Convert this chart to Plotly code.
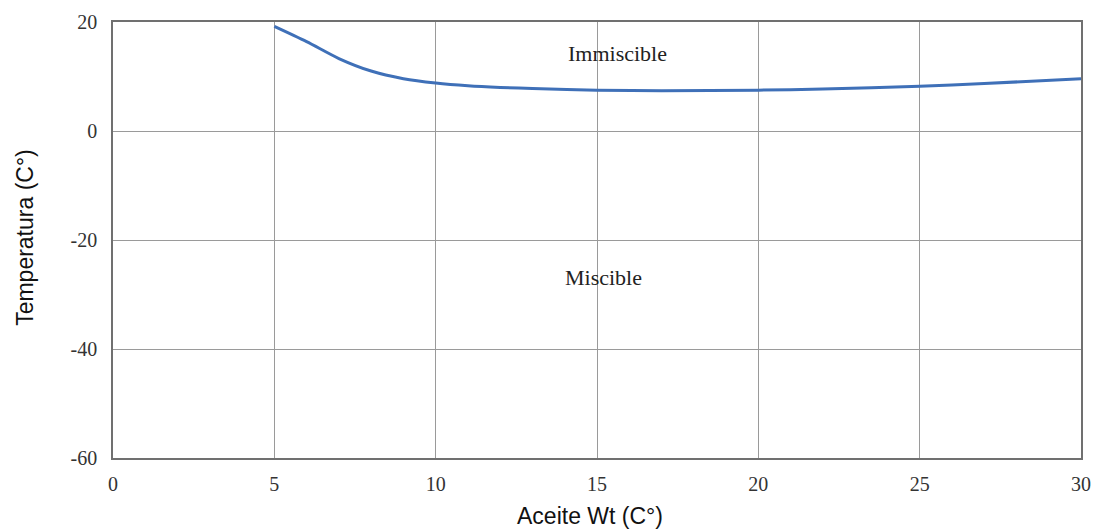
import plotly.graph_objects as go

# Data
oil_wt = [5, 6, 7, 8, 9, 10, 11, 12, 13, 15, 17, 20, 22, 25, 27, 30]
temperature = [19.2, 16.4, 13.3, 11.0, 9.6, 8.8, 8.3, 8.0, 7.8, 7.5, 7.4, 7.5, 7.7, 8.2, 8.7, 9.6]

x_ticks = [0, 5, 10, 15, 20, 25, 30]
y_ticks = [20, 0, -20, -40, -60]

region_labels = ["Immiscible", "Miscible"]
region_x = [15.65, 15.2]
region_y = [14.3, -26.8]

fig = go.Figure()
fig.add_trace(go.Scatter(
    x=oil_wt, y=temperature, mode="lines",
    line=dict(color="#3f70b8", width=3, shape="spline", smoothing=0.8),
    showlegend=False, hoverinfo="x+y",
))

for label, lx, ly in zip(region_labels, region_x, region_y):
    fig.add_annotation(x=lx, y=ly, xref="x", yref="y", text=label, showarrow=False,
                       font=dict(family="Liberation Serif", size=22, color="#222222"))

fig.add_annotation(x=0.493, y=-0.133, xref="paper", yref="paper", text="Aceite Wt (C°)",
                   showarrow=False, xanchor="center", yanchor="middle",
                   font=dict(family="Liberation Sans", size=23, color="#111111"))
fig.add_annotation(x=-0.091, y=0.507, xref="paper", yref="paper", text="Temperatura (C°)",
                   showarrow=False, xanchor="center", yanchor="middle", textangle=-90,
                   font=dict(family="Liberation Sans", size=23, color="#111111"))

axis_common = dict(
    showgrid=True, gridcolor="#9a9a9a", gridwidth=1,
    showline=True, linecolor="#707070", linewidth=1.5, mirror=True,
    zeroline=False, ticks="", automargin=False,
    tickfont=dict(family="Liberation Serif", size=20, color="#333333"),
)

fig.update_xaxes(range=[0, 30], tickvals=x_ticks, ticktext=[str(v) for v in x_ticks],
                 ticklabelstandoff=7, **axis_common)
fig.update_yaxes(range=[-60, 20], tickvals=y_ticks, ticktext=[str(v) for v in y_ticks],
                 ticklabelstandoff=10, **axis_common)

fig.update_layout(
    width=1096, height=530, autosize=False,
    margin=dict(l=113, r=15, t=22, b=72),
    paper_bgcolor="white", plot_bgcolor="white",
)

fig.write_html(
    "out.html",
    config={"responsive": False, "displayModeBar": False},
    post_script="document.body.style.margin='0';document.body.style.overflow='hidden';",
)
